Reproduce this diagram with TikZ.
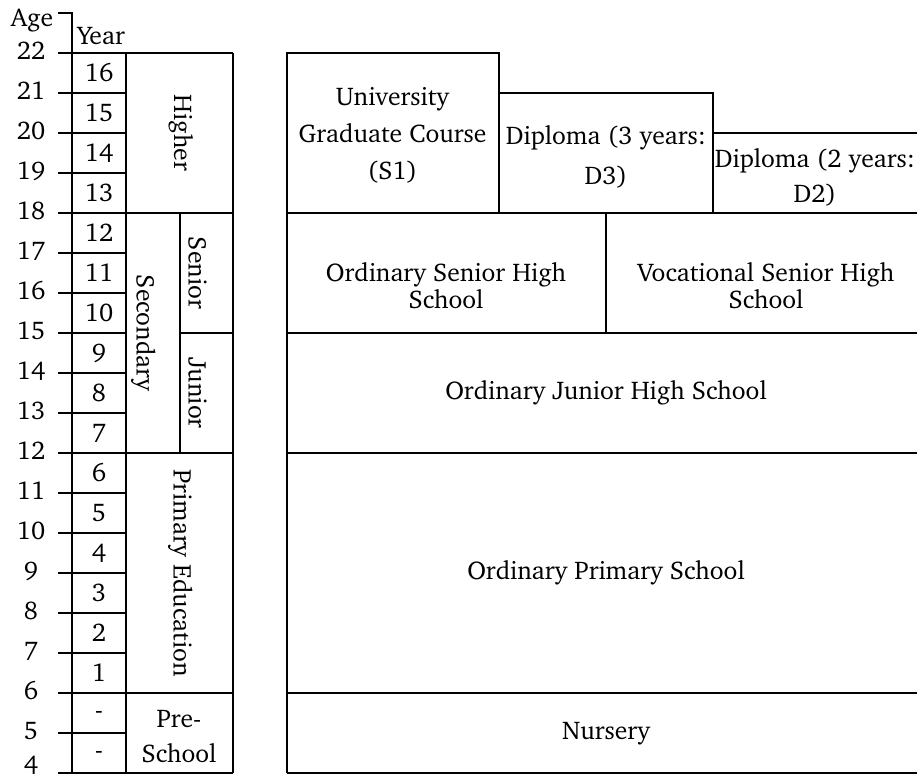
\documentclass[tikz,border=0pt]{standalone}
\usepackage[T1]{fontenc}
\usepackage{charter}
\begin{document}
\begin{tikzpicture}[x=1pt,y=-1pt,
  grid/.style={line width=1.6pt, line join=miter},
  txt/.style={font=\fontsize{25.6}{30}\selectfont, inner sep=0pt, outer sep=0pt},
  vtxt/.style={txt, rotate=-90, anchor=base},
  multi/.style={txt, align=center, font=\fontsize{25.6}{#1}\selectfont}
]
\useasboundingbox (0,0) rectangle (917,778);
% ---------- left table ----------
\draw[grid] (58,13) -- (72,13) -- (72,773);
\draw[grid] (126,53) -- (126,773);
\draw[grid] (233,53) -- (233,773);
\draw[grid] (180,213) -- (180,453);
\foreach \a in {21,20,19,17,16,15,14,13,11,10,9,8,7,5}{
  \pgfmathsetmacro{\yy}{53+(22-\a)*40}
  \draw[grid] (58,\yy) -- (126,\yy);
}
\foreach \yy in {53,213,453,693,773}{
  \draw[grid] (58,\yy) -- (233,\yy);
}
\draw[grid] (180,333) -- (233,333);
% age labels
\node[txt,anchor=base] (agehead) at (32,26.7) {Age};
\node[txt,anchor=base] (yearhead) at (101,45) {Year};
\foreach \a in {5,...,22}{
  \pgfmathsetmacro{\yy}{53+(22-\a)*40-2}
  \node[txt] (age\a) at (31,\yy) {\a};
}
\node[txt,anchor=base] (age4) at (31,773.5) {4};
\foreach \a in {7,...,22}{
  \pgfmathsetmacro{\yy}{53+(22-\a)*40+20}
  \pgfmathtruncatemacro{\yr}{\a-6}
  \node[txt] (year\yr) at (99,\yy) {\yr};
}
\node[txt] (yearpa) at (99,715) {-};
\node[txt] (yearpb) at (99,755) {-};
% category labels
\node[vtxt] (higher) at (174,133) {Higher};
\node[vtxt] (secondary) at (136.5,333) {Secondary};
\node[vtxt] (senior) at (188.5,273) {Senior};
\node[vtxt] (junior) at (188.5,393) {Junior};
\node[vtxt] (primary) at (173.5,573) {Primary Education};
\node[multi=35] (preschool) at (179,736) {Pre-\\School};
% ---------- right table ----------
\draw[grid] (287,773) -- (287,53) -- (499,53) -- (499,213);
\draw[grid] (499,93) -- (713,93) -- (713,213);
\draw[grid] (713,133) -- (917,133);
\foreach \yy in {213,333,453,693,773}{
  \draw[grid] (287,\yy) -- (917,\yy);
}
\draw[grid] (606,213) -- (606,333);
\node[multi=36.67] (univ) at (392.5,135.2) {University\\Graduate Course\\(S1)};
\node[multi=40] (dthree) at (606,156.7) {Diploma (3 years:\\D3)};
\node[multi=35] (dtwo) at (815,177.2) {Diploma (2 years:\\D2)};
\node[multi=26.6] (osh) at (446,285.8) {Ordinary Senior High\\School};
\node[multi=26.6] (vsh) at (766,285.8) {Vocational Senior High\\School};
\node[txt] (ojh) at (606,393) {Ordinary Junior High School};
\node[txt] (ops) at (606,573) {Ordinary Primary School};
\node[txt] (nursery) at (606,733) {Nursery};
\end{tikzpicture}
\end{document}
